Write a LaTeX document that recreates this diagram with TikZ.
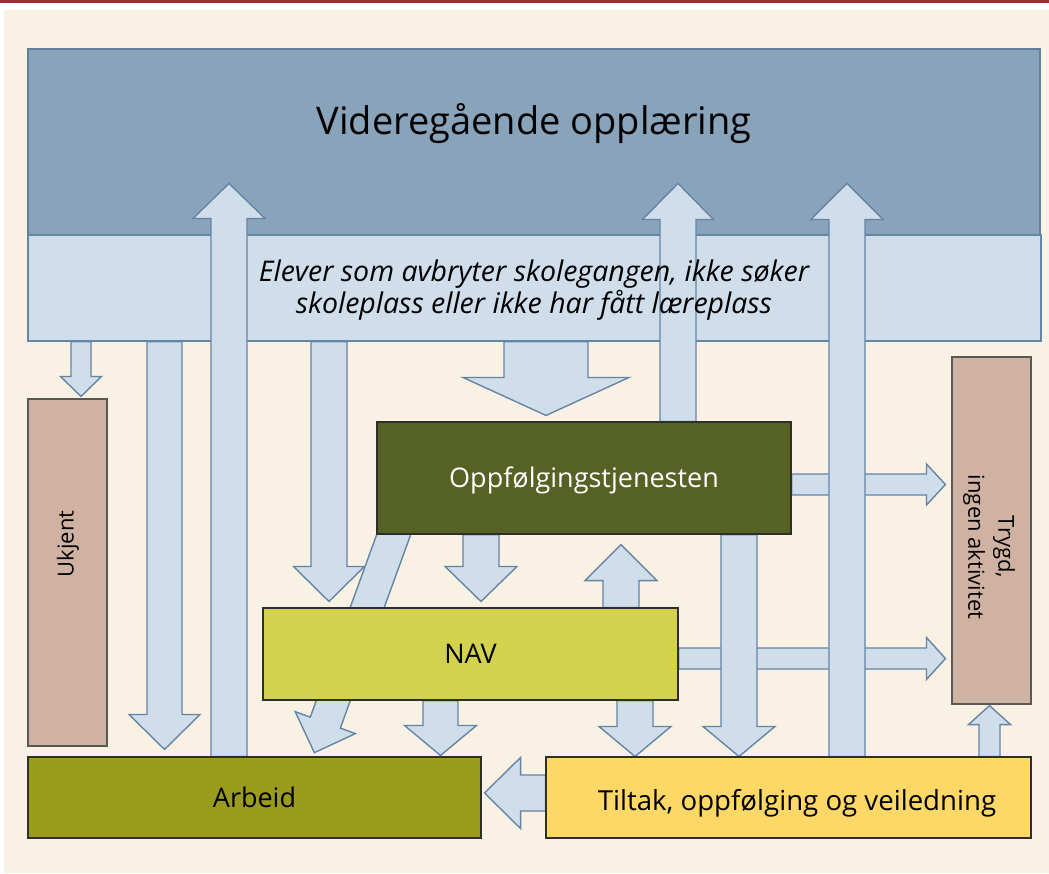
\documentclass[tikz,border=0pt]{standalone}
\usepackage{fontspec}
\setmainfont{Open Sans}
\usetikzlibrary{calc}

\definecolor{page}{HTML}{F9F1E3}
\definecolor{topline}{HTML}{A12837}
\definecolor{vgofill}{HTML}{88A3BA}
\definecolor{vgoline}{HTML}{5F7F9C}
\definecolor{flowfill}{HTML}{D0DDEB}
\definecolor{flowline}{HTML}{6585A5}
\definecolor{oppffill}{HTML}{566224}
\definecolor{navfill}{HTML}{D3D24F}
\definecolor{arbeidfill}{HTML}{9B9B1E}
\definecolor{tiltakfill}{HTML}{FED866}
\definecolor{restfill}{HTML}{D0B2A2}
\definecolor{boxline}{HTML}{2E2E2A}

\tikzset{
  box/.style={draw=boxline, line width=1.1pt, inner sep=0pt, text height=19pt, text depth=0pt,
    font=\fontsize{27}{32}\selectfont},
  flow/.style={draw=flowline, fill=flowfill, line width=1.4pt, line join=miter},
  sidetext/.style={align=center, font=\fontsize{22}{30}\selectfont},
}

% block arrow: from, to, gap before target, half body, half head, head length
\newcommand{\blockarrow}[6]{%
  \coordinate (ba-s) at (#1);
  \coordinate (ba-e) at (#2);
  \coordinate (ba-t) at ($(ba-e)!#3pt!(ba-s)$);
  \coordinate (ba-h) at ($(ba-t)!#6pt!(ba-s)$);
  \draw[flow] ($(ba-s)!#4pt!90:(ba-t)$) -- ($(ba-h)!#4pt!-90:(ba-s)$) -- ($(ba-h)!#5pt!-90:(ba-s)$)
    -- (ba-t) -- ($(ba-h)!#5pt!90:(ba-s)$) -- ($(ba-h)!#4pt!90:(ba-s)$) -- ($(ba-s)!#4pt!-90:(ba-t)$) -- cycle;}

\begin{document}
\begin{tikzpicture}[x=1pt, y=-1pt]
    \useasboundingbox (0,0) rectangle (1049,873);
    \fill[white] (0,0) rectangle (1049,873);
    \fill[page] (4,10) rectangle (1049,873);
    \fill[topline] (0,0) rectangle (1049,3);

    % top boxes
    \node[box, draw=vgoline, fill=vgofill, minimum width=1012pt, minimum height=186pt] (vgo) at (534,142) {};
    \node[box, draw=flowline, fill=flowfill, minimum width=1013pt, minimum height=106pt] (elever) at (534.5,288) {};

    % the lower boxes, only placed here so arrows can use them
    \path
      node[box, minimum width=414pt, minimum height=112pt] (oppf) at (584,478) {}
      node[box, minimum width=415pt, minimum height=92pt] (nav) at (470.5,654) {}
      node[box, minimum width=453pt, minimum height=81pt] (arbeid) at (254.5,797.5) {}
      node[box, minimum width=485pt, minimum height=81pt] (tiltak) at (788.5,797.5) {}
      node[box, minimum width=79pt, minimum height=347pt] (ukjent) at (67.5,572.5) {}
      node[box, minimum width=79pt, minimum height=347pt] (trygd) at (991.5,530.5) {};

    % horizontal arrows first, verticals cross over them
    \blockarrow{oppf.east |- 0,484.5}{trygd.west |- 0,484.5}{6}{10.5}{20.5}{19}
    \blockarrow{nav.east |- 0,658.5}{trygd.west |- 0,658.5}{6}{10.5}{21}{19}
    \blockarrow{tiltak.west |- 0,793}{arbeid.east |- 0,793}{3}{18}{35.5}{36}

    \blockarrow{elever.south -| 81,0}{ukjent.north -| 81,0}{2}{10}{20.5}{20}
    \blockarrow{elever.south -| 164.5,0}{arbeid.north -| 164.5,0}{7}{17.5}{35.5}{35}
    \blockarrow{arbeid.north -| 229,0}{vgo.north -| 229,0}{135}{18}{36}{35}
    \blockarrow{elever.south -| 329,0}{nav.north -| 329,0}{6}{18}{35.5}{35}
    \blockarrow{elever.south -| 546,0}{oppf.north -| 546,0}{6}{42}{83}{38}
    \blockarrow{oppf.north -| 678,0}{vgo.north -| 678,0}{135}{18}{35.5}{36}
    \blockarrow{tiltak.north -| 847,0}{vgo.north -| 847,0}{135}{18}{36}{36}
    \blockarrow{tiltak.north -| 989.5,0}{trygd.south -| 989.5,0}{1}{10.5}{21}{19}
    \blockarrow{oppf.south -| 739,0}{tiltak.north -| 739,0}{0}{18}{36}{30}
    \blockarrow{nav.north -| 621,0}{oppf.south -| 621,0}{10}{18}{36}{36}
    \blockarrow{nav.south -| 635,0}{tiltak.north -| 635,0}{0}{18}{36}{30}
    \blockarrow{oppf.south -| 481,0}{nav.north -| 481,0}{6}{18}{36}{35}
    \blockarrow{nav.south -| 440.5,0}{arbeid.north -| 440.5,0}{1}{17.5}{36}{30}
    % slanted one runs under NAV
    \coordinate (diag-from) at ($(oppf.south)+(-183,-20)$);
    \blockarrow{diag-from}{arbeid.north -| 313,0}{4}{16}{32}{32}

    % boxes on top
    \node[box, fill=oppffill, text=white, minimum width=414pt, minimum height=112pt] at (oppf) {Oppfølgingstjenesten};
    \node[box, fill=navfill, minimum width=415pt, minimum height=92pt] at (nav) {NAV};
    \node[box, fill=arbeidfill, minimum width=453pt, minimum height=81pt] at (arbeid) {Arbeid};
    \node[box, fill=tiltakfill, minimum width=485pt, minimum height=81pt] at (tiltak) {};
    \node[box, draw=boxline!80, fill=restfill, minimum width=79pt, minimum height=347pt] at (ukjent) {};
    \node[box, draw=boxline!80, fill=restfill, minimum width=79pt, minimum height=347pt] at (trygd) {};

    % texts
    \node[anchor=base, font=\fontsize{38}{40}\selectfont] (vgo-text) at (534,134) {Videregående opplæring};
    \node[align=center, font=\itshape\fontsize{28.5}{32}\selectfont] (elever-text) at (534,290)
      {Elever som avbryter skolegangen, ikke søker\\skoleplass eller ikke har fått læreplass};
    \node[anchor=base, font=\fontsize{27.6}{32}\selectfont] (tiltak-text) at (797,810) {Tiltak, oppfølging og veiledning};
    \node[sidetext, rotate=90] (ukjent-text) at (68,544) {Ukjent};
    \node[sidetext, rotate=-90] (trygd-text) at (989,547) {Trygd,\\ingen aktivitet};
\end{tikzpicture}
\end{document}
